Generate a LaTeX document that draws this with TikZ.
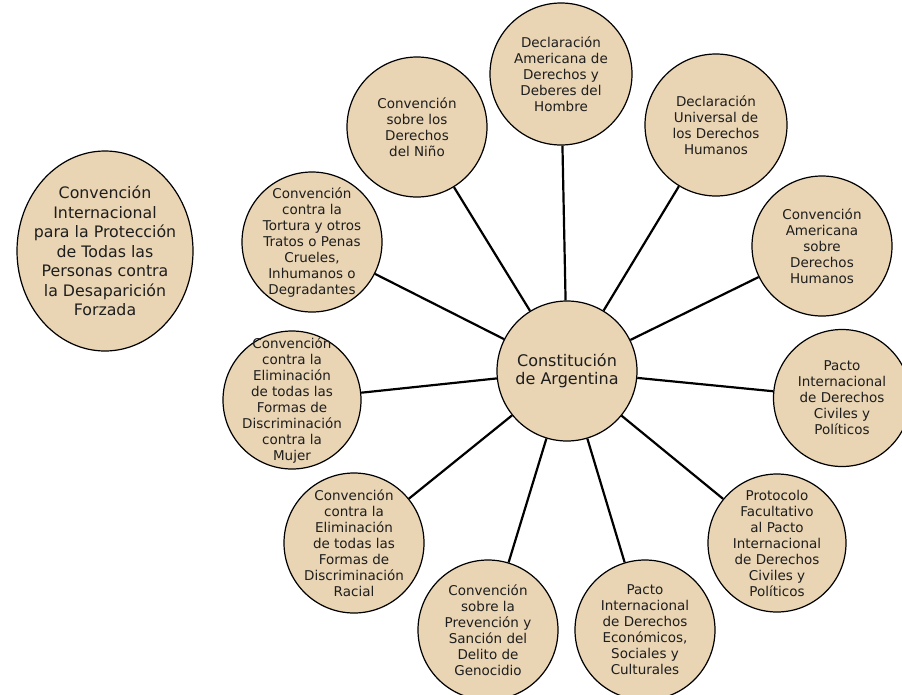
\documentclass[tikz,border=0pt]{standalone}
\usepackage{fontspec}
\setmainfont{DejaVu Sans}
\usepackage{tikz}
\usetikzlibrary{shapes.geometric}

\definecolor{beige}{RGB}{233,212,179}
\definecolor{tinta}{RGB}{30,30,30}
\tikzset{
	tratado/.style={circle, draw=black, line width=1.2pt, fill=beige, inner sep=0pt, minimum size=140pt},
	texto/.style={align=center, text=tinta, inner sep=0pt, font=\fontsize{13.5}{16}\selectfont},
	rayo/.style={line width=2.2pt}
}

\begin{document}
\begin{tikzpicture}[x=1pt,y=-1pt]
			\useasboundingbox (0,0) rectangle (902,694);
			% centro
			\node[tratado, label={[texto, font=\fontsize{16}{18.5}\selectfont]center:{Constitución\\de Argentina}}] (cen) at (567,371) {};
			% tratados alrededor
			\node[tratado, minimum size=142pt, label={[texto]center:{Declaración\\Americana de\\Derechos y\\Deberes del\\Hombre}}] (dam) at (561,74) {};
			\node[tratado, minimum size=142pt, label={[texto]center:{Declaración\\Universal de\\los Derechos\\Humanos}}] (dudh) at (716,125) {};
			\node[tratado, label={[texto]center:{Convención\\Americana\\sobre\\Derechos\\Humanos}}] (cadh) at (822,246) {};
			\node[tratado, minimum size=137pt, label={[texto]center:{Pacto\\Internacional\\de Derechos\\Civiles y\\Políticos}}] (pidcp) at (842,398) {};
			\node[tratado, minimum size=138pt, label={[texto]center:{Protocolo\\Facultativo\\al Pacto\\Internacional\\de Derechos\\Civiles y\\Políticos}}] (prot) at (777,543) {};
			\node[tratado, label={[texto]center:{Pacto\\Internacional\\de Derechos\\Económicos,\\Sociales y\\Culturales}}] (pidesc) at (645,630) {};
			\node[tratado, label={[texto]center:{Convención\\sobre la\\Prevención y\\Sanción del\\Delito de\\Genocidio}}] (geno) at (488,630) {};
			\node[tratado, label={[texto]center:{Convención\\contra la\\Eliminación\\de todas las\\Formas de\\Discriminación\\Racial}}] (racial) at (354,543) {};
			\node[tratado, minimum size=138pt, label={[texto]center:{Convención\\contra la\\Eliminación\\de todas las\\Formas de\\Discriminación\\contra la\\Mujer}}] (mujer) at (292,400) {};
			\node[tratado, label={[texto]center:{Convención\\contra la\\Tortura y otros\\Tratos o Penas\\Crueles,\\Inhumanos o\\Degradantes}}] (tort) at (312,242) {};
			\node[tratado, label={[texto]center:{Convención\\sobre los\\Derechos\\del Niño}}] (nino) at (417,127) {};
			% suelta, sin rayo
			\node[ellipse, draw=black, line width=1.2pt, fill=beige, inner sep=0pt, minimum width=176pt, minimum height=200pt,
				label={[texto, font=\fontsize{15.8}{19.5}\selectfont]center:{Convención\\Internacional\\para la Protección\\de Todas las\\Personas contra\\la Desaparición\\Forzada}}] (desap) at (105,251) {};
			% rayos
			\foreach \t in {dam,dudh,cadh,pidcp,prot,pidesc,geno,racial,mujer,tort,nino}
				\draw[rayo] (cen) -- (\t);
\end{tikzpicture}
\end{document}
